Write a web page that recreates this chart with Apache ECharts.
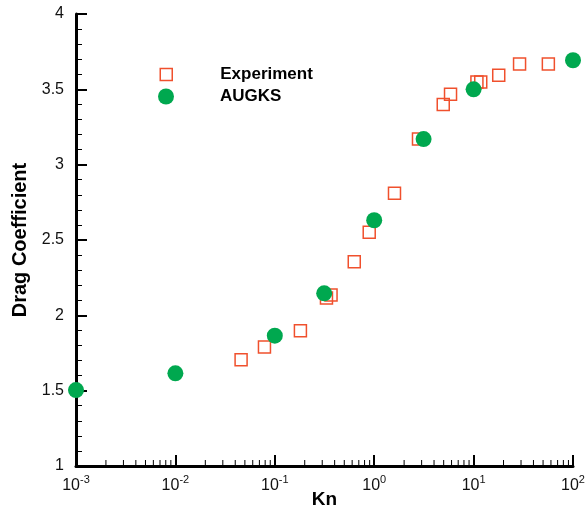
<!DOCTYPE html>
<html>
<head>
<meta charset="utf-8">
<script src="https://cdn.jsdelivr.net/npm/echarts@6/dist/echarts.min.js"></script>
<style>
html,body{margin:0;padding:0;background:#fff;}
#chart{width:586px;height:514px;}
</style>
</head>
<body>
<div id="chart"></div>
<script>
// ---- data ----
const expKn = [0.0458, 0.0787, 0.181, 0.331, 0.368, 0.63, 0.891, 1.60, 2.79, 4.95, 5.86, 10.8, 11.8, 17.9, 29.0, 56.5];
const expCd = [1.706, 1.79, 1.898, 2.115, 2.135, 2.356, 2.551, 2.81, 3.17, 3.40, 3.467, 3.549, 3.549, 3.594, 3.668, 3.668];
const augKn = [0.001, 0.01, 0.1, 0.314, 1, 3.14, 10, 100];
const augCd = [1.504, 1.615, 1.865, 2.146, 2.631, 3.17, 3.50, 3.693];
const seriesNames = ['Experiment', 'AUGKS'];
const xTitle = 'Kn';
const yTitle = 'Drag Coefficient';
const yTickLabels = ['1', '1.5', '2', '2.5', '3', '3.5', '4'];

// minor tick positions on log axis (2..9 x 10^n)
const minorVals = [];
for (let e = -3; e < 2; e++) for (let m = 2; m <= 9; m++) minorVals.push(m * Math.pow(10, e));

const FONT = '"Liberation Sans", Arial, Helvetica, sans-serif';
const RED = '#f0502d';
const GREEN = '#00a84f';

const chart = echarts.init(document.getElementById('chart'), null, {renderer: 'canvas'});
chart.setOption({
  animation: false,
  backgroundColor: '#fff',
  grid: {left: 76, right: 13, top: 14, bottom: 48, containLabel: false, outerBoundsMode: 'none'},
  legend: [
    {
      data: [{name: seriesNames[0], icon: 'rect', itemStyle: {color: 'transparent', borderColor: RED, borderWidth: 1.5, opacity: 1}}],
      left: 159.5, top: 66, padding: 0, itemWidth: 12, itemHeight: 12, selectedMode: false,
      textStyle: {fontFamily: FONT, fontWeight: 'bold', fontSize: 17, color: '#000', padding: [0, 0, 0, 43]}
    },
    {
      data: [{name: seriesNames[1], icon: 'circle', itemStyle: {color: GREEN, opacity: 1}}],
      left: 158, top: 88, padding: 0, itemWidth: 16, itemHeight: 16, selectedMode: false,
      textStyle: {fontFamily: FONT, fontWeight: 'bold', fontSize: 17, color: '#000', padding: [0, 0, 0, 41]}
    }
  ],
  xAxis: {
    type: 'log', logBase: 10, min: 0.001, max: 100,
    name: xTitle, nameLocation: 'middle', nameGap: 24, nameMoveOverlap: false,
    nameTextStyle: {fontFamily: FONT, fontWeight: 'bold', fontSize: 19, color: '#000'},
    axisLine: {show: true, onZero: false, lineStyle: {color: '#000', width: 3}},
    axisTick: {show: true, inside: true, length: 11, lineStyle: {color: '#000', width: 2}},
    minorTick: {show: false},
    splitLine: {show: false},
    axisLabel: {
      margin: 8,
      formatter: function (v) {
        const e = Math.round(Math.log10(v));
        return '{b|10}{s|' + e + '}';
      },
      rich: {
        b: {fontFamily: FONT, fontSize: 16, color: '#111', lineHeight: 20, verticalAlign: 'bottom'},
        s: {fontFamily: FONT, fontSize: 11, color: '#111', lineHeight: 11, verticalAlign: 'top'}
      }
    }
  },
  yAxis: {
    type: 'value', min: 1, max: 4, interval: 0.5,
    name: yTitle, nameLocation: 'middle', nameGap: 46, nameMoveOverlap: false,
    nameTextStyle: {fontFamily: FONT, fontWeight: 'bold', fontSize: 20, color: '#000'},
    axisLine: {show: true, onZero: false, lineStyle: {color: '#000', width: 3}},
    axisTick: {show: true, inside: true, length: 11, lineStyle: {color: '#000', width: 2}},
    minorTick: {show: true, splitNumber: 5, length: 6, lineStyle: {color: '#000', width: 1}},
    splitLine: {show: false},
    axisLabel: {
      margin: 12, fontFamily: FONT, fontSize: 16, color: '#111',
      formatter: function (v) {
        const idx = Math.round((v - 1) / 0.5);
        return yTickLabels[idx] !== undefined ? yTickLabels[idx] : '';
      }
    }
  },
  series: [
    {
      type: 'custom', name: 'minorTicks', silent: true, clip: false, z: 1,
      data: minorVals.map(v => [v, 1]),
      encode: {x: 0, y: 1},
      renderItem: function (params, api) {
        const p = api.coord([api.value(0), 1]);
        return {type: 'line', shape: {x1: p[0], y1: p[1], x2: p[0], y2: p[1] - 6}, style: {stroke: '#000', lineWidth: 1}};
      }
    },
    {
      type: 'scatter', name: seriesNames[0], symbol: 'rect', symbolSize: 12, clip: false, z: 3,
      itemStyle: {color: 'transparent', borderColor: RED, borderWidth: 1.5, opacity: 1},
      data: expKn.map((k, i) => [k, expCd[i]])
    },
    {
      type: 'scatter', name: seriesNames[1], symbol: 'circle', symbolSize: 16, clip: false, z: 4,
      itemStyle: {color: GREEN, opacity: 1},
      data: augKn.map((k, i) => [k, augCd[i]])
    }
  ]
});
</script>
</body>
</html>
